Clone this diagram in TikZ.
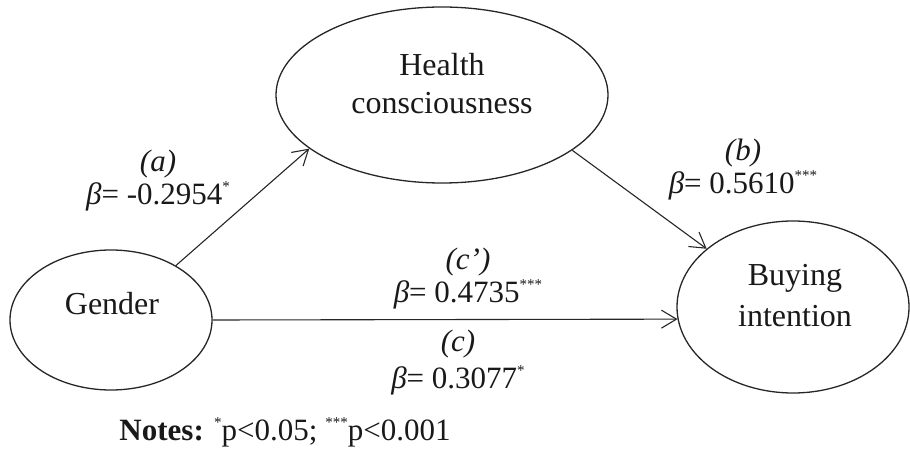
\documentclass[tikz,border=0pt]{standalone}
\usepackage{fontspec}
\setmainfont{Liberation Serif}
\usetikzlibrary{shapes.geometric,arrows.meta}
\newcommand{\myast}[1]{\raisebox{0.42em}{\fontsize{15}{15}\selectfont #1}}
\begin{document}
\begin{tikzpicture}[x=1pt,y=-1pt,
  var/.style={draw=black!85, ellipse, line width=1.3pt, inner sep=0pt},
  vtext/.style={align=center, text=black!90, font=\fontsize{32}{38}\selectfont},
  lab/.style={align=center, text=black!90, font=\fontsize{31}{33}\selectfont},
  arr/.style={draw=black!85, line width=1.1pt, -{Straight Barb[length=15pt,width=18pt,line width=1.1pt]}}]
\useasboundingbox (0,0) rectangle (910,462);
% variables
\node[var, minimum width=202pt, minimum height=140pt] (g) at (111,320) {};
\node[var, minimum width=332pt, minimum height=176pt] (h) at (442,95) {};
\node[var, minimum width=232pt, minimum height=172pt] (b) at (793,307) {};
\node[vtext] (gt) at (112,304) {Gender};
\node[vtext] (ht) at (442,84) {Health\\consciousness};
\node[vtext, font=\fontsize{32}{41}\selectfont] (bt) at (795,296) {Buying\\intention};
% paths
\draw[arr] (g.40) -- (h.202);
\draw[arr] (h.-23) -- (b.146);
\draw[arr] (g.east) -- (b.186);
% labels
\node[lab] (la) at (158,181) {\textit{(a)}\\\textit{β}= -0.2954\myast{*}};
\node[lab] (lb) at (743,170) {\textit{(b)}\\\textit{β}= 0.5610\myast{***}};
\node[lab] (lc1) at (468,279) {\textit{(c’)}\\\textit{β}= 0.4735\myast{***}};
\node[lab, font=\fontsize{31}{37}\selectfont] (lc) at (458,363) {\textit{(c)}\\\textit{β}= 0.3077\myast{*}};
\node[lab] (notes) at (285,432) {\textbf{Notes:} \myast{*}p<0.05; \myast{***}p<0.001};
\end{tikzpicture}
\end{document}
